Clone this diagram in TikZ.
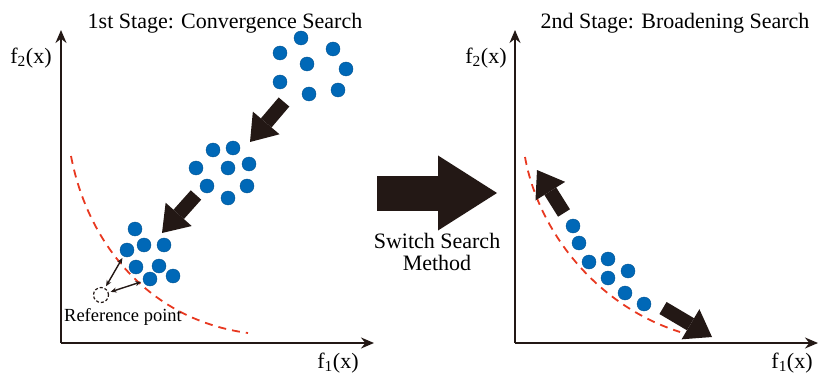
\documentclass[tikz,border=0pt]{standalone}
\usepackage{fontspec}
\setmainfont{Liberation Serif}
\usetikzlibrary{arrows.meta}
\definecolor{dotblue}{RGB}{0,104,183}
\definecolor{inkblack}{RGB}{35,24,21}
\definecolor{frontred}{RGB}{232,56,32}

\begin{document}
\begin{tikzpicture}[
        x=1pt, y=-1pt,
        font=\fontsize{22}{26}\selectfont,
        axis/.style={-{Stealth[length=13pt,width=11pt]}, line width=1.5pt, inkblack},
        dot/.style={circle, fill=dotblue, draw=dotblue!80!black, line width=0.4pt, minimum size=14pt, inner sep=0pt},
        front/.style={dash pattern=on 8pt off 6pt, line width=1.8pt, frontred},
        bigarrow/.style={line width=14pt, inkblack, -{Triangle[length=25pt,width=35pt,line width=0pt]}},
        gap/.style={{Stealth[length=6pt,width=5pt]}-{Stealth[length=6pt,width=5pt]}, line width=1.4pt, inkblack, shorten <=2pt, shorten >=2pt}
    ]
        \useasboundingbox (0,0) rectangle (818,374);

        % --- Etapa 1: ejes ---
        \coordinate (O1) at (61,343);
        \coordinate (Y1) at (61,30);
        \coordinate (X1) at (374,343);
        \draw[axis] (O1) -- (Y1);
        \draw[axis] (O1) -- (X1);
        \node (f2a) at (31,58) {f\textsubscript{2}(x)};
        \node (f1a) at (338,363) {f\textsubscript{1}(x)};
        \node (title1) at (225,23) {1st Stage: Convergence Search};

        % frente de Pareto
        \draw[front] (71,156) .. controls (88,245) and (150,320) .. (248,333);

        % poblaciones
        \foreach \x/\y [count=\i] in {280/53, 301/38, 333/49, 307/64, 346/69, 280/82, 309/94, 338/90}
            \node[dot] (a\i) at (\x,\y) {};
        \foreach \x/\y [count=\i] in {213/150, 233/148, 196/168, 228/168, 249/164, 207/186, 247/186, 228/198}
            \node[dot] (b\i) at (\x,\y) {};
        \foreach \x/\y [count=\i] in {135/229, 127/250, 144/245, 164/245, 136/267, 159/266, 150/279, 173/276}
            \node[dot] (c\i) at (\x,\y) {};

        % flechas de convergencia
        \coordinate (s1) at (284,102);
        \coordinate (t1) at (250,142);
        \coordinate (s2) at (196,195);
        \coordinate (t2) at (162,233);
        \draw[bigarrow] (s1) -- (t1);
        \draw[bigarrow] (s2) -- (t2);

        % punto de referencia
        \node[circle, draw=inkblack, dash pattern=on 3pt off 2pt, line width=1.2pt, minimum size=15pt, inner sep=0pt] (ref) at (101,295) {};
        \node[font=\fontsize{18.5}{22}\selectfont] (reflabel) at (123,317) {Reference point};
        \draw[gap] (ref) -- (c2);
        \draw[gap] (ref) -- (c7);

        % --- Cambio de metodo ---
        \coordinate (m1) at (377,193);
        \coordinate (m2) at (497,193);
        \draw[line width=35pt, inkblack, -{Triangle[length=59pt,width=75pt,line width=0pt]}] (m1) -- (m2);
        \node[align=center, font=\fontsize{22}{21.5}\selectfont] (switch) at (437,252) {Switch Search\\Method};

        % --- Etapa 2: ejes ---
        \coordinate (O2) at (515,343);
        \coordinate (Y2) at (515,30);
        \coordinate (X2) at (818,343);
        \draw[axis] (O2) -- (Y2);
        \draw[axis] (O2) -- (X2);
        \node (f2b) at (486,58) {f\textsubscript{2}(x)};
        \node (f1b) at (792,363) {f\textsubscript{1}(x)};
        \node (title2) at (675,23) {2nd Stage: Broadening Search};

        \draw[front] (525,157) .. controls (538,230) and (595,305) .. (680,332);

        \foreach \x/\y [count=\i] in {573/226, 579/243, 589/262, 608/259, 628/271, 608/278, 625/293, 644/304}
            \node[dot] (r\i) at (\x,\y) {};

        % flechas de ensanchamiento
        \coordinate (s3) at (564,213);
        \coordinate (t3) at (537,170);
        \coordinate (s4) at (663,308);
        \coordinate (t4) at (712,337);
        \draw[bigarrow] (s3) -- (t3);
        \draw[bigarrow] (s4) -- (t4);

    \end{tikzpicture}
\end{document}
